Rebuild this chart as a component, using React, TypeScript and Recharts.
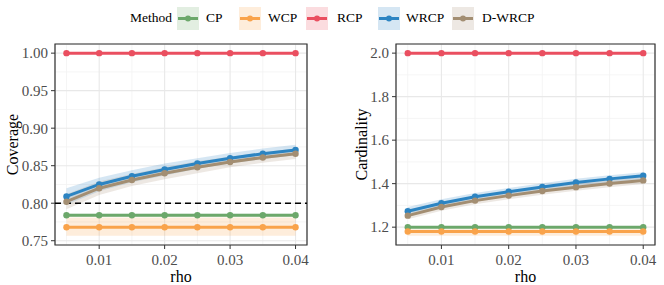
import React from 'react';
import {
  Area,
  CartesianGrid,
  ComposedChart,
  Label,
  Line,
  ReferenceArea,
  ReferenceLine,
  XAxis,
  YAxis,
} from 'recharts';

const rho = [0.005, 0.01, 0.015, 0.02, 0.025, 0.03, 0.035, 0.04];
const methods = ['CP', 'WCP', 'RCP', 'WRCP', 'D-WRCP'];
const colors = ['#6ca86b', '#f9a34b', '#ea4f60', '#2c84c2', '#a38e72'];

// coverage
const cpCov = [0.784, 0.784, 0.784, 0.784, 0.784, 0.784, 0.784, 0.784];
const cpCovLo = [0.782, 0.782, 0.782, 0.782, 0.782, 0.782, 0.782, 0.782];
const cpCovHi = [0.786, 0.786, 0.786, 0.786, 0.786, 0.786, 0.786, 0.786];
const wcpCov = [0.768, 0.768, 0.768, 0.768, 0.768, 0.768, 0.768, 0.768];
const wcpCovLo = [0.7565, 0.7565, 0.7565, 0.7565, 0.7565, 0.7565, 0.7565, 0.7565];
const wcpCovHi = [0.781, 0.781, 0.781, 0.781, 0.781, 0.781, 0.781, 0.781];
const rcpCov = [1.0, 1.0, 1.0, 1.0, 1.0, 1.0, 1.0, 1.0];
const wrcpCov = [0.809, 0.825, 0.836, 0.845, 0.853, 0.86, 0.866, 0.871];
const wrcpCovLo = [0.798, 0.816, 0.828, 0.837, 0.846, 0.853, 0.859, 0.864];
const wrcpCovHi = [0.82, 0.834, 0.844, 0.853, 0.86, 0.867, 0.873, 0.878];
const dwrcpCov = [0.802, 0.82, 0.831, 0.84, 0.848, 0.855, 0.861, 0.866];
const dwrcpCovLo = [0.792, 0.811, 0.823, 0.832, 0.84, 0.848, 0.854, 0.859];
const dwrcpCovHi = [0.812, 0.829, 0.839, 0.848, 0.856, 0.862, 0.868, 0.873];

// cardinality
const cpCard = [1.2, 1.2, 1.2, 1.2, 1.2, 1.2, 1.2, 1.2];
const cpCardLo = [1.195, 1.195, 1.195, 1.195, 1.195, 1.195, 1.195, 1.195];
const cpCardHi = [1.205, 1.205, 1.205, 1.205, 1.205, 1.205, 1.205, 1.205];
const wcpCard = [1.18, 1.18, 1.18, 1.18, 1.18, 1.18, 1.18, 1.18];
const wcpCardLo = [1.16, 1.16, 1.16, 1.16, 1.16, 1.16, 1.16, 1.16];
const wcpCardHi = [1.19, 1.19, 1.19, 1.19, 1.19, 1.19, 1.19, 1.19];
const rcpCard = [2.0, 2.0, 2.0, 2.0, 2.0, 2.0, 2.0, 2.0];
const wrcpCard = [1.273, 1.31, 1.34, 1.363, 1.385, 1.405, 1.422, 1.436];
const wrcpCardLo = [1.253, 1.292, 1.323, 1.346, 1.368, 1.388, 1.405, 1.419];
const wrcpCardHi = [1.293, 1.328, 1.357, 1.38, 1.402, 1.422, 1.439, 1.453];
const dwrcpCard = [1.253, 1.293, 1.322, 1.345, 1.366, 1.384, 1.401, 1.415];
const dwrcpCardLo = [1.236, 1.276, 1.305, 1.328, 1.349, 1.367, 1.384, 1.398];
const dwrcpCardHi = [1.27, 1.31, 1.339, 1.362, 1.383, 1.401, 1.418, 1.432];

const xTicks = [0.01, 0.02, 0.03, 0.04];
const xMinor = [0.005, 0.015, 0.025, 0.035];
const xDomain = [0.00325, 0.04175];

const covTicks = [0.75, 0.8, 0.85, 0.9, 0.95, 1.0];
const covMinor = [0.775, 0.825, 0.875, 0.925, 0.975];
const covDomain = [0.7443, 1.0122];

const cardTicks = [1.2, 1.4, 1.6, 1.8, 2.0];
const cardMinor = [1.3, 1.5, 1.7, 1.9];
const cardDomain = [1.118, 2.042];

const FONT = '"Liberation Serif", "Times New Roman", serif';

const buildRows = (vals: number[][], lo: number[][], hi: number[][]) =>
  rho.map((r, i) => {
    const row: any = { rho: r };
    methods.forEach((m, k) => {
      row[m] = vals[k][i];
      row[m + '_band'] = [lo[k][i], hi[k][i]];
    });
    return row;
  });

const covRows = buildRows(
  [cpCov, wcpCov, rcpCov, wrcpCov, dwrcpCov],
  [cpCovLo, wcpCovLo, rcpCov, wrcpCovLo, dwrcpCovLo],
  [cpCovHi, wcpCovHi, rcpCov, wrcpCovHi, dwrcpCovHi]
);
const cardRows = buildRows(
  [cpCard, wcpCard, rcpCard, wrcpCard, dwrcpCard],
  [cpCardLo, wcpCardLo, rcpCard, wrcpCardLo, dwrcpCardLo],
  [cpCardHi, wcpCardHi, rcpCard, wrcpCardHi, dwrcpCardHi]
);

// tick label renderers so the serif font sticks
const xTick = (props: any) => (
  <text x={props.x} y={props.y} dy='0.71em' textAnchor='middle' fontSize={15} fill='#4d4d4d' fontFamily={FONT}>
    {Number(props.payload.value).toFixed(2)}
  </text>
);
const yTick = (digits: number) => (props: any) => (
  <text x={props.x} y={props.y} dy='0.355em' textAnchor='end' fontSize={15} fill='#4d4d4d' fontFamily={FONT}>
    {Number(props.payload.value).toFixed(digits)}
  </text>
);

const yTitle = (text: string, x: number) => (props: any) => {
  const vb = props.viewBox || { y: 44, height: 201 };
  const cy = vb.y + vb.height / 2;
  return (
    <text
      x={x}
      y={cy}
      transform={`rotate(-90, ${x}, ${cy})`}
      textAnchor='middle'
      dominantBaseline='central'
      fontSize={16}
      fill='#000'
      fontFamily={FONT}
    >
      {text}
    </text>
  );
};

type PanelProps = {
  rows: any[];
  yTicks: number[];
  yMinor: number[];
  yDomain: number[];
  digits: number;
  title: string;
  titleX: number;
  yWidth: number;
  right: number;
  hline?: number;
};

const Panel = ({ rows, yTicks, yMinor, yDomain, digits, title, titleX, yWidth, right, hline }: PanelProps) => (
  <ComposedChart
    width={332}
    height={285}
    data={rows}
    margin={{ top: 44, right, bottom: 0, left: 0 }}
    style={{ fontFamily: FONT }}
  >
    <XAxis xAxisId='minor' dataKey='rho' type='number' domain={xDomain} ticks={xMinor} hide allowDataOverflow />
    <YAxis yAxisId='minor' type='number' domain={yDomain} ticks={yMinor} hide allowDataOverflow />
    <CartesianGrid xAxisId='minor' yAxisId='minor' stroke='#f3f3f3' strokeWidth={0.8} />
    <CartesianGrid stroke='#e8e8e8' strokeWidth={1.1} />
    <XAxis
      dataKey='rho'
      type='number'
      domain={xDomain}
      ticks={xTicks}
      allowDataOverflow
      height={40}
      axisLine={false}
      tickLine={{ stroke: '#333' }}
      tickSize={4}
      tickMargin={5}
      tick={xTick}
    >
      <Label value='rho' position='insideBottom' offset={3} fontSize={16} fill='#000' fontFamily={FONT} />
    </XAxis>
    <YAxis
      type='number'
      domain={yDomain}
      ticks={yTicks}
      allowDataOverflow
      width={yWidth}
      axisLine={false}
      tickLine={{ stroke: '#333' }}
      tickSize={4}
      tickMargin={3}
      tick={yTick(digits)}
      label={{ content: yTitle(title, titleX) }}
    />
    {methods.map((m, k) => (
      <Area
        key={m + 'band'}
        dataKey={m + '_band'}
        stroke='none'
        fill={colors[k]}
        fillOpacity={0.2}
        isAnimationActive={false}
        activeDot={false}
      />
    ))}
    {hline !== undefined && (
      <ReferenceLine y={hline} stroke='#000' strokeWidth={1.5} strokeDasharray='6 4' />
    )}
    {methods.map((m, k) => (
      <Line
        key={m}
        dataKey={m}
        stroke={colors[k]}
        strokeWidth={3}
        dot={{ r: 3.2, fill: colors[k], stroke: colors[k], strokeWidth: 0 }}
        activeDot={false}
        isAnimationActive={false}
      />
    ))}
    <ReferenceArea
      x1={xDomain[0]}
      x2={xDomain[1]}
      y1={yDomain[0]}
      y2={yDomain[1]}
      fill='none'
      stroke='#333'
      strokeWidth={1.2}
      ifOverflow='visible'
    />
  </ComposedChart>
);

const legendKeyX = [177, 239, 306, 378, 452];
const legendLabelX = [206, 268, 337, 406, 482];

const LegendBar = () => (
  <div style={{ position: 'absolute', left: 0, top: 0, width: 664, height: 36, fontFamily: FONT, fontSize: 13.5, color: '#000' }}>
    <span style={{ position: 'absolute', left: 130, top: 10 }}>Method</span>
    {methods.map((m, k) => (
      <React.Fragment key={m}>
        <svg width={22} height={23} style={{ position: 'absolute', left: legendKeyX[k], top: 7 }}>
          <rect x={0} y={0} width={22} height={23} fill={colors[k]} fillOpacity={0.2} />
          <line x1={1} x2={21} y1={11.5} y2={11.5} stroke={colors[k]} strokeWidth={3} />
          <circle cx={11} cy={11.5} r={3} fill={colors[k]} />
        </svg>
        <span style={{ position: 'absolute', left: legendLabelX[k], top: 10 }}>{m}</span>
      </React.Fragment>
    ))}
  </div>
);

const App = () => (
  <div style={{ position: 'absolute', left: 0, top: 0, width: 664, height: 285, background: '#fff' }}>
    <LegendBar />
    <div style={{ position: 'absolute', left: 0, top: 0 }}>
      <Panel
        rows={covRows}
        yTicks={covTicks}
        yMinor={covMinor}
        yDomain={covDomain}
        digits={2}
        title='Coverage'
        titleX={12}
        yWidth={55}
        right={25}
        hline={0.8}
      />
    </div>
    <div style={{ position: 'absolute', left: 332, top: 0 }}>
      <Panel
        rows={cardRows}
        yTicks={cardTicks}
        yMinor={cardMinor}
        yDomain={cardDomain}
        digits={1}
        title='Cardinality'
        titleX={29}
        yWidth={64}
        right={9}
      />
    </div>
  </div>
);

export default App;
